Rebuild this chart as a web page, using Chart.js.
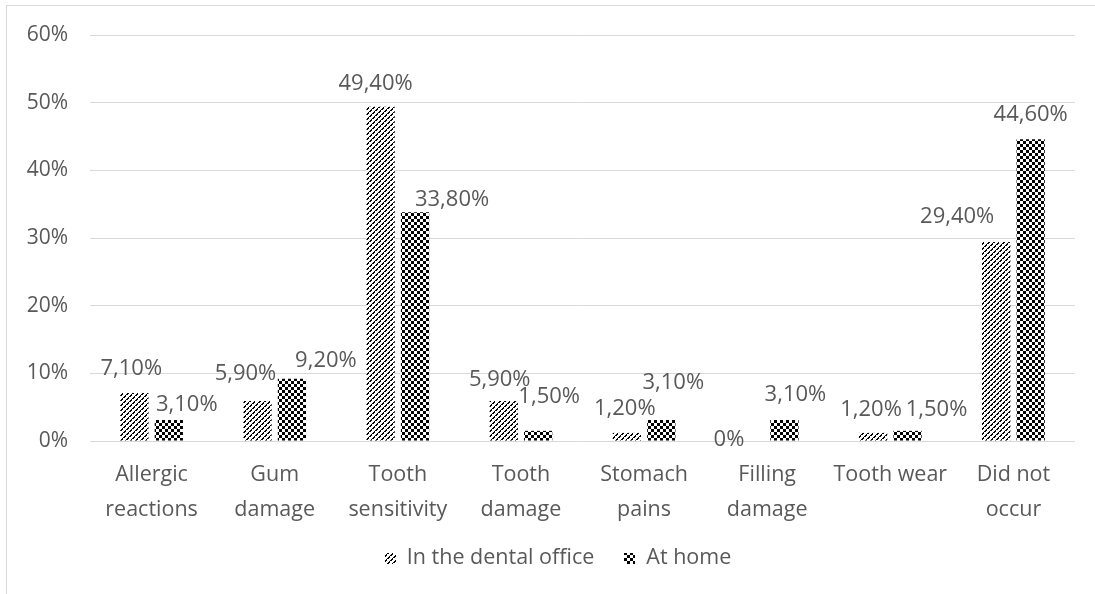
<!DOCTYPE html>
<html>
<head>
<meta charset="utf-8">
<script src="https://cdn.jsdelivr.net/npm/chart.js@4.4.1/dist/chart.umd.min.js"></script>
<style>
  html, body { margin: 0; padding: 0; background: #ffffff; overflow: hidden; }
  #wrap { position: relative; width: 1095px; height: 594px; }
  #frame { position: absolute; left: 6px; top: 5px; width: 1200px; height: 700px;
           border: 1px solid #d9d9d9; box-sizing: border-box; }
  canvas { position: absolute; left: 0; top: 0; }
</style>
</head>
<body>
<div id="wrap">
  <div id="frame"></div>
  <canvas id="chart" width="1095" height="594"></canvas>
</div>
<script>
// Side effects of tooth whitening, share of respondents (%)
const categories = [
  ['Allergic', 'reactions'],
  ['Gum', 'damage'],
  ['Tooth', 'sensitivity'],
  ['Tooth', 'damage'],
  ['Stomach', 'pains'],
  ['Filling', 'damage'],
  'Tooth wear',
  ['Did not', 'occur']
];
const seriesNames = ['In the dental office', 'At home'];
const dentalOffice = [7.1, 5.9, 49.4, 5.9, 1.2, 0, 1.2, 29.4];
const atHome = [3.1, 9.2, 33.8, 1.5, 3.1, 3.1, 1.5, 44.6];
const yTicks = [0, 10, 20, 30, 40, 50, 60];

// Hand-placed label shifts (px) so neighbouring value labels do not collide
const labelShift = [
  [[-3, -4], [-12, -7], [-5, -3], [-4, -1], [-2, -4], [-21, 19], [-2, -3], [-39, -5]],
  [[18, 5], [34, 2], [37, 7], [11, -14], [12, -17], [11, -5], [29, -1], [0, -4]]
];

const FONT = "'Open Sans', 'Noto Sans', sans-serif";
const TEXT = '#595959';

// Fill patterns: dashed upward diagonal stripes and checkerboard
function makeDiagonal() {
  const n = 15;
  const c = document.createElement('canvas');
  c.width = n; c.height = n;
  const g = c.getContext('2d');
  g.fillStyle = '#ffffff'; g.fillRect(0, 0, n, n);
  g.fillStyle = '#000000';
  for (let y = 0; y < n; y++) {
    for (let x = 0; x < n; x++) {
      const d = (x + y) % 5;
      if (d === 0 || (d === 1 && x % 3 !== 0)) g.fillRect(x, y, 1, 1);
    }
  }
  return g.createPattern(c, 'repeat');
}
function makeChecker() {
  const c = document.createElement('canvas');
  c.width = 6; c.height = 6;
  const g = c.getContext('2d');
  g.fillStyle = '#ffffff'; g.fillRect(0, 0, 6, 6);
  g.fillStyle = '#000000';
  g.fillRect(0, 0, 3, 3);
  g.fillRect(3, 3, 3, 3);
  return g.createPattern(c, 'repeat');
}
const fills = [makeDiagonal(), makeChecker()];

function fmt(v) {
  if (v === 0) return '0%';
  return v.toFixed(2).replace('.', ',') + '%';
}

// Value labels above each bar
const valueLabels = {
  id: 'valueLabels',
  afterDatasetsDraw(chart) {
    const ctx = chart.ctx;
    ctx.save();
    ctx.font = "22px " + FONT;
    ctx.fillStyle = TEXT;
    ctx.textAlign = 'center';
    ctx.textBaseline = 'middle';
    chart.data.datasets.forEach((ds, di) => {
      const meta = chart.getDatasetMeta(di);
      meta.data.forEach((bar, i) => {
        const s = labelShift[di][i];
        ctx.fillText(fmt(ds.data[i]), bar.x + s[0], bar.y - 20 + s[1]);
      });
    });
    ctx.restore();
  }
};

// Legend row under the category labels
const bottomLegend = {
  id: 'bottomLegend',
  afterDraw(chart) {
    const ctx = chart.ctx;
    ctx.save();
    ctx.font = "21.5px " + FONT;
    ctx.textBaseline = 'middle';
    const box = 11, gapBox = 11, gapItem = 30;
    const widths = chart.data.datasets.map(d => box + gapBox + ctx.measureText(d.label).width);
    const total = widths.reduce((a, b) => a + b, 0) + gapItem * (widths.length - 1);
    let x = 558 - total / 2;
    const y = 558;
    chart.data.datasets.forEach((d, i) => {
      ctx.fillStyle = d.backgroundColor;
      ctx.fillRect(Math.round(x), Math.round(y - box / 2), box, box);
      ctx.fillStyle = TEXT;
      ctx.textAlign = 'left';
      ctx.fillText(d.label, x + box + gapBox, y);
      x += widths[i] + gapItem;
    });
    ctx.restore();
  }
};

new Chart(document.getElementById('chart'), {
  type: 'bar',
  data: {
    labels: categories,
    datasets: [
      { label: seriesNames[0], data: dentalOffice, backgroundColor: fills[0], borderWidth: 0 },
      { label: seriesNames[1], data: atHome, backgroundColor: fills[1], borderWidth: 0 }
    ]
  },
  options: {
    responsive: false,
    animation: false,
    events: [],
    layout: { padding: { left: 0, right: 20, top: 35, bottom: 55 } },
    plugins: { legend: { display: false }, tooltip: { enabled: false } },
    datasets: { bar: { categoryPercentage: 0.56, barPercentage: 0.82 } },
    scales: {
      x: {
        grid: { display: false },
        border: { display: false },
        ticks: {
          color: TEXT,
          font: { family: FONT, size: 21.5, lineHeight: 1.63 },
          padding: 8,
          maxRotation: 0,
          autoSkip: false
        },
        afterFit(scale) { scale.height = 98; }
      },
      y: {
        min: 0, max: 60,
        grid: { color: '#d9d9d9', lineWidth: 1, drawTicks: false },
        border: { display: false },
        afterBuildTicks(scale) { scale.ticks = yTicks.map(v => ({ value: v })); },
        ticks: {
          color: TEXT,
          font: { family: FONT, size: 21 },
          padding: 22,
          callback: v => v + '%'
        },
        afterFit(scale) { scale.width = 90; }
      }
    }
  },
  plugins: [valueLabels, bottomLegend]
});
</script>
</body>
</html>
